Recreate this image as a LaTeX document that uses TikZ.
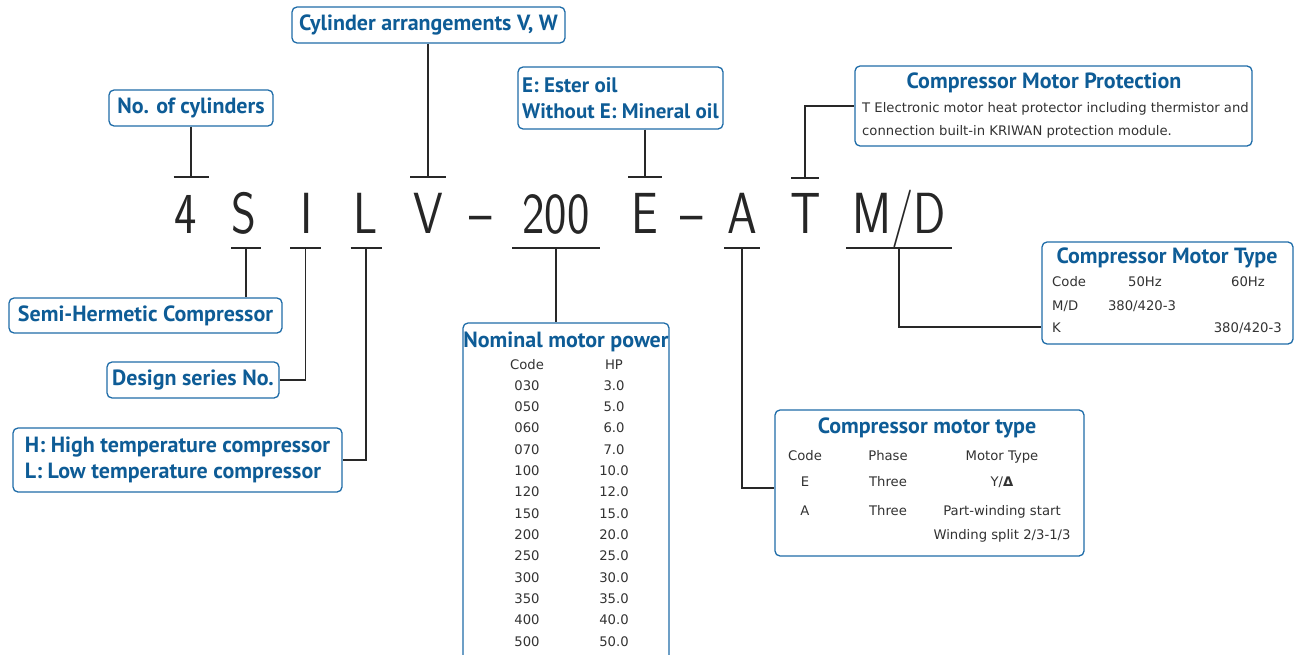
\documentclass[tikz,border=0pt]{standalone}
\usepackage{fontspec}
\usepackage{graphicx}
\usetikzlibrary{positioning}
\newfontfamily\lblfont{PT Sans}
\newfontfamily\cellfont{DejaVu Sans}
\definecolor{lblblue}{RGB}{14,92,150}
\definecolor{boxblue}{RGB}{30,108,168}
\definecolor{linegray}{RGB}{40,40,40}
\definecolor{cellgray}{RGB}{50,50,50}

\begin{document}
\begin{tikzpicture}[x=1pt, y=-1pt,
			lbl/.style={draw=boxblue, line width=1.3pt, rounded corners=5pt, text=lblblue,
				font=\lblfont\bfseries\fontsize{22}{26}\selectfont, inner sep=0pt, align=left},
			frame/.style={draw=boxblue, line width=1.3pt, rounded corners=5pt, inner sep=0pt},
			ttl/.style={text=lblblue, font=\lblfont\bfseries\fontsize{22}{26}\selectfont, inner sep=0pt},
			cell/.style={text=cellgray, font=\cellfont\fontsize{13.2}{16}\selectfont, inner sep=0pt, anchor=mid},
			codechar/.style={font=\sffamily\fontsize{58}{60}\selectfont, text=black!85, inner sep=0pt, anchor=base},
			conn/.style={draw=linegray, line width=1.2pt}]
			
			\useasboundingbox (0,0) rectangle (1297,655);
			\clip (0,0) rectangle (1297,655);
			
			% Codice del compressore
			\foreach \ch/\x/\n in {4/186/k4, S/244/kS, I/307/kI, L/366/kL, V/428/kV, {–}/481/kd1,
				200/556/k200, E/645/kE, {–}/692/kd2, A/742/kA, T/806/kT, {M/D}/899/kMD}
				\node[codechar] (\n) at (\x,233) {\scalebox{0.82}[1]{\ch}};
			
			% Tacche sopra e sotto
			\coordinate (u4) at (191,177);
			\coordinate (uV) at (428,177);
			\coordinate (uE) at (645,177);
			\coordinate (uT) at (805,178);
			\coordinate (dS) at (246,248);
			\coordinate (dI) at (305.5,248);
			\coordinate (dL) at (366,248);
			\coordinate (d200) at (556,248);
			\coordinate (dA) at (742,248);
			\coordinate (dMD) at (899,248);
			\foreach \p/\w in {u4/17.5, uV/18, uE/17, uT/14, dS/15, dI/15.5, dL/15.5, d200/44, dA/18, dMD/53}
				\draw[conn] ([xshift=-\w pt]\p) -- ([xshift=\w pt]\p);
			
			% Riquadri in alto
			\node[lbl, minimum width=164pt, minimum height=36pt] (cyl) at (191,108) {No. of cylinders};
			\node[lbl, minimum width=273pt, minimum height=36pt] (arr) at (428.5,25) {Cylinder arrangements V, W};
			\node[lbl, minimum width=205pt, minimum height=62pt, font=\lblfont\bfseries\fontsize{21}{26}\selectfont] (oil) at (620.5,98) {E: Ester oil\\Without E: Mineral oil};
			\node[frame, minimum width=397pt, minimum height=80pt] (prot) at (1053.5,106) {};
			\node[ttl] (protT) at (1044,83) {Compressor Motor Protection};
			\node[cell, anchor=mid west] (prot1) at (862,110) {T Electronic motor heat protector including thermistor and};
			\node[cell, anchor=mid west] (prot2) at (862,133) {connection built-in KRIWAN protection module.};
			
			% Riquadri a sinistra
			\node[lbl, minimum width=273pt, minimum height=35pt] (semi) at (145.5,315.5) {Semi-Hermetic Compressor};
			\node[lbl, minimum width=172pt, minimum height=36pt] (design) at (193,380) {Design series No.};
			\node[lbl, minimum width=329pt, minimum height=64pt] (hl) at (177.5,460) {H: High temperature compressor\\L: Low temperature compressor};
			
			% Potenza nominale
			\node[frame, minimum width=206pt, minimum height=342pt] (nom) at (566,494) {};
			\node[ttl] (nomT) at (566,342) {Nominal motor power};
			\node[cell] (nCode) at (527,367) {Code};
			\node[cell] (nHP) at (614,367) {HP};
			\foreach \c/\h [count=\i] in {030/3.0, 050/5.0, 060/6.0, 070/7.0, 100/10.0, 120/12.0, 150/15.0,
				200/20.0, 250/25.0, 300/30.0, 350/35.0, 400/40.0, 500/50.0} {
				\node[cell] (nc\i) at (527,{366.7+21.33*\i}) {\c};
				\node[cell] (nh\i) at (614,{366.7+21.33*\i}) {\h};
			}
			
			% Tipo di avviamento
			\node[frame, minimum width=309pt, minimum height=146pt] (cmt) at (929.5,483) {};
			\node[ttl] (cmtT) at (927,428) {Compressor motor type};
			\node[cell] (cmtC) at (805,458) {Code};
			\node[cell] (cmtP) at (888,458) {Phase};
			\node[cell] (cmtM) at (1002,458) {Motor Type};
			\node[cell] (cmtE1) at (805,484) {E};
			\node[cell] (cmtE2) at (888,484) {Three};
			\node[cell] (cmtE3) at (1002,484) {Y/\textbf{Δ}};
			\node[cell] (cmtA1) at (805,513) {A};
			\node[cell] (cmtA2) at (888,513) {Three};
			\node[cell] (cmtA3) at (1002,513) {Part-winding start};
			\node[cell] (cmtA4) at (1002,537) {Winding split 2/3-1/3};
			
			% Tensione del motore
			\node[frame, minimum width=251pt, minimum height=102pt] (mtype) at (1167.5,293) {};
			\node[ttl] (mtypeT) at (1167,258) {Compressor Motor Type};
			\node[cell, anchor=mid west] (mtC) at (1052,284) {Code};
			\node[cell] (mt50) at (1145,284) {50Hz};
			\node[cell] (mt60) at (1248,284) {60Hz};
			\node[cell, anchor=mid west] (mtMD) at (1052,308) {M/D};
			\node[cell] (mtMDv) at (1142,308) {380/420-3};
			\node[cell, anchor=mid west] (mtK) at (1052,330) {K};
			\node[cell, anchor=mid east] (mtKv) at (1282,330) {380/420-3};
			
			% Collegamenti
			\draw[conn] (cyl) -- (u4);
			\draw[conn] (arr.south -| uV) -- (uV);
			\draw[conn] (oil.south -| uE) -- (uE);
			\draw[conn] (uT) |- (prot.west);
			\draw[conn] (dS) -- (semi.north -| dS);
			\draw[conn] (dI) |- (design.east);
			\draw[conn] (dL) |- (hl.east);
			\draw[conn] (d200) -- (nom.north -| d200);
			\draw[conn] (dA) |- ([yshift=-5pt]cmt.west);
			\draw[conn] (dMD) |- ([yshift=-34pt]mtype.west);
			
		\end{tikzpicture}
\end{document}
